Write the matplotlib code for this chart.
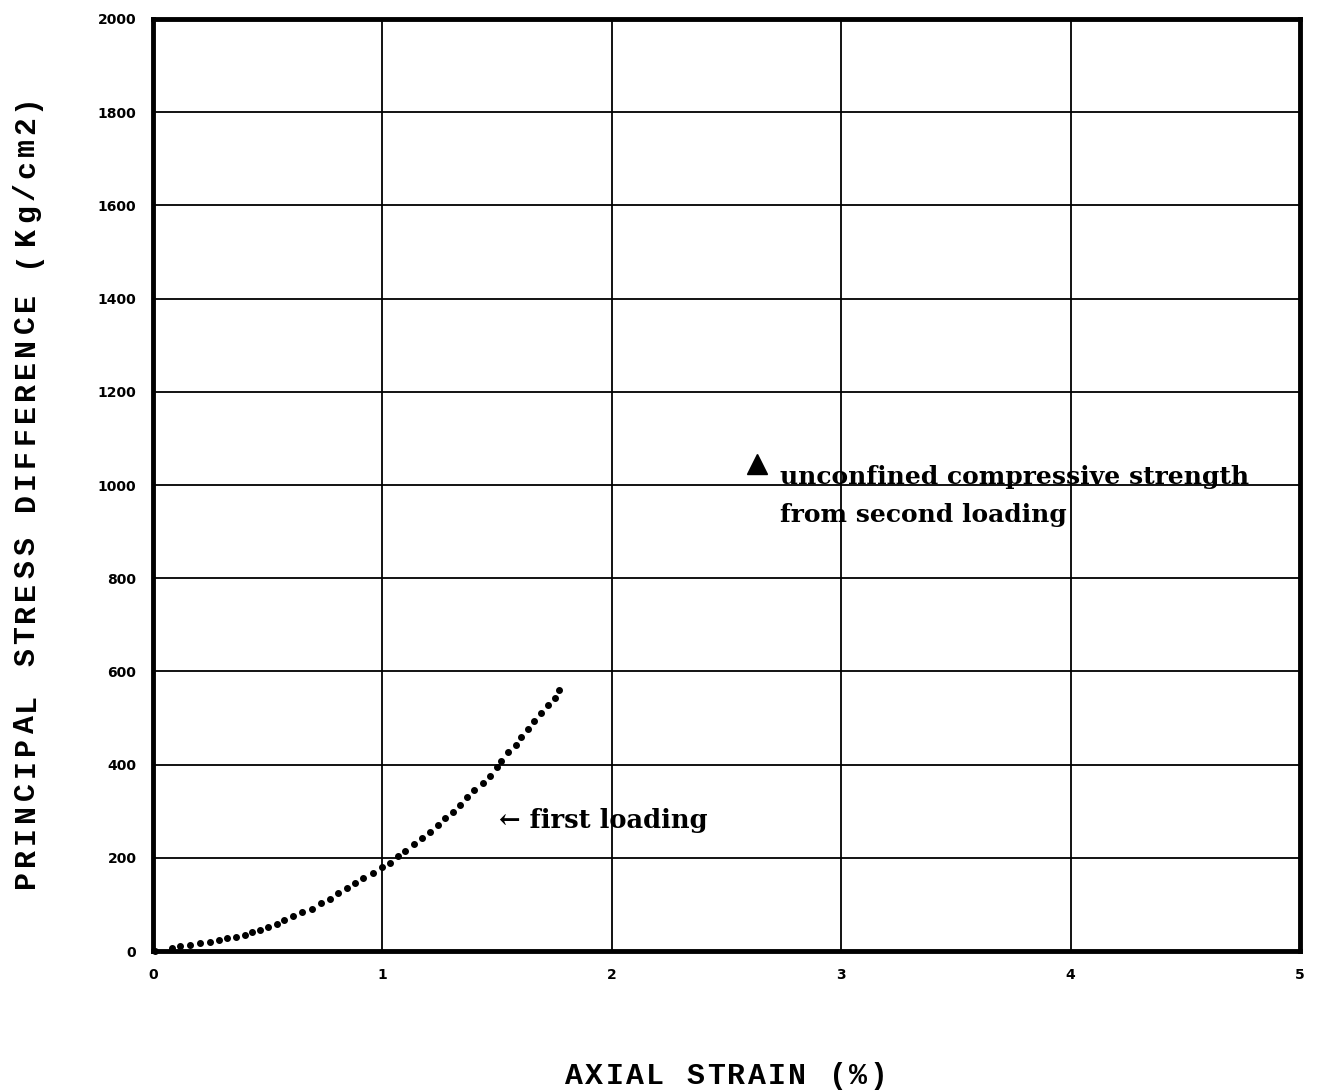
import matplotlib
matplotlib.use("Agg")
import matplotlib.pyplot as plt

# first loading curve (axial strain %, principal stress difference kg/cm2)
strain = [0.009, 0.082, 0.118, 0.161, 0.205, 0.248, 0.288, 0.321, 0.362, 0.401,
          0.430, 0.466, 0.500, 0.539, 0.572, 0.612, 0.651, 0.692, 0.731, 0.772,
          0.808, 0.846, 0.881, 0.917, 0.960, 0.997, 1.033, 1.069, 1.099, 1.138,
          1.171, 1.207, 1.241, 1.273, 1.309, 1.338, 1.367, 1.399, 1.437, 1.469,
          1.498, 1.517, 1.546, 1.581, 1.603, 1.633, 1.662, 1.691, 1.723, 1.752,
          1.771]
stress = [1, 7, 11, 13, 17, 20, 24, 27, 31, 34,
          40, 45, 52, 58, 67, 75, 84, 91, 102, 112,
          124, 135, 146, 156, 167, 180, 189, 204, 215, 230,
          242, 256, 270, 285, 299, 313, 330, 345, 361, 376,
          394, 408, 426, 442, 460, 476, 494, 510, 528, 544,
          560]
# unconfined compressive strength from second loading
ucs_strain = [2.633]
ucs_stress = [1045]

x_ticks = [0, 1, 2, 3, 4, 5]
y_ticks = [0, 200, 400, 600, 800, 1000, 1200, 1400, 1600, 1800, 2000]

x_label = 'AXIAL STRAIN (%)'
y_label = 'PRINCIPAL STRESS DIFFERENCE (Kg/cm2)'

W, H = 1324, 1091
fig = plt.figure(figsize=(W / 100, H / 100), dpi=100)
ax = fig.add_axes([0.1156, 0.1283, 0.8663, 0.8543])

ax.set_xlim(0, 5)
ax.set_ylim(0, 2000)
ax.set_xticks(x_ticks)
ax.set_yticks(y_ticks)
ax.set_xticklabels([str(t) for t in x_ticks], fontsize=10, fontweight='bold', family='DejaVu Sans')
ax.set_yticklabels([str(t) for t in y_ticks], fontsize=10, fontweight='bold', family='DejaVu Sans')
ax.tick_params(length=0, pad=12)
ax.grid(True, color='black', linewidth=1.3)
ax.set_axisbelow(True)
for s in ax.spines.values():
    s.set_linewidth(3.5)
    s.set_color('black')

ax.plot(strain, stress, linestyle='none', marker='o', markersize=4.0, color='black', clip_on=False, zorder=3)
ax.plot(ucs_strain, ucs_stress, linestyle='none', marker='^', markersize=14, color='black', zorder=3)

serif = ['DejaVu Serif']
ax.text(1.51, 281, '\u2190 first loading', fontsize=18.5, fontweight='bold', family=serif,
        ha='left', va='center')
ax.text(2.733, 1003, 'unconfined compressive strength', fontsize=18,
        fontweight='bold', family=serif, ha='left', va='baseline')
ax.text(2.733, 921, 'from second loading', fontsize=18,
        fontweight='bold', family=serif, ha='left', va='baseline')

# letter-spaced typewriter-style axis labels
mono = dict(fontsize=21.5, fontweight='bold', family='Liberation Mono', ha='center', va='center')
n = len(x_label)
adv = 20.3
for i, ch in enumerate(x_label):
    px = 726 + (i - (n - 1) / 2) * adv
    fig.text(px / W, 1 - 1076 / H, ch, **mono)
n = len(y_label)
adv = 22.2
for i, ch in enumerate(y_label):
    py = 491 + ((n - 1) / 2 - i) * adv
    fig.text(26 / W, 1 - py / H, ch, rotation=90, **mono)

fig.savefig('out.png', dpi=100)
